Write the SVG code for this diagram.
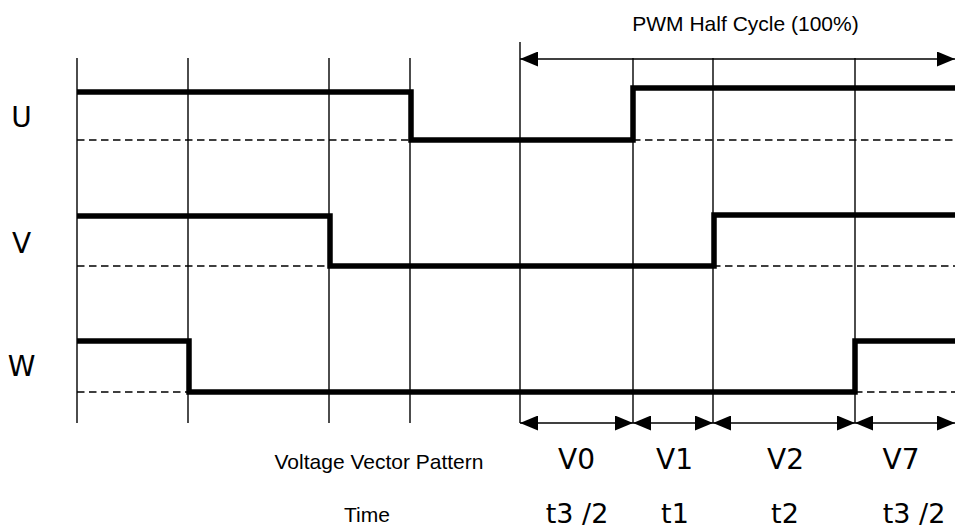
<svg xmlns="http://www.w3.org/2000/svg" width="955" height="530" viewBox="0 0 955 530">
<style>
.thin{stroke:#000;stroke-width:1.4;fill:none}
.dash{stroke:#000;stroke-width:1.5;stroke-dasharray:7.5,4.5;fill:none}
.sig{stroke:#000;stroke-width:5.5;fill:none;stroke-linejoin:miter}
.lbl{font-family:"DejaVu Sans",Verdana,sans-serif;font-size:28px;fill:#000}
.tl{font-family:"DejaVu Sans",Verdana,sans-serif;font-size:27px;fill:#000}
.sm{font-family:"Liberation Sans",Arial,sans-serif;font-size:21px;fill:#000}
</style>
<defs>
<marker id="ah" viewBox="0 0 18 15" refX="18" refY="7.5" markerWidth="18" markerHeight="15" markerUnits="userSpaceOnUse" orient="auto-start-reverse">
<path d="M0,0 L18,7.5 L0,15 z" fill="#000"/>
</marker>
</defs>
<rect width="955" height="530" fill="#fff"/>
<g id="gridlines">
<line class="thin" x1="77" y1="58" x2="77" y2="423"/>
<line class="thin" x1="188" y1="58" x2="188" y2="423"/>
<line class="thin" x1="329" y1="58" x2="329" y2="423"/>
<line class="thin" x1="410" y1="58" x2="410" y2="423"/>
<line class="thin" x1="520" y1="42" x2="520" y2="423"/>
<line class="thin" x1="633" y1="58" x2="633" y2="423"/>
<line class="thin" x1="713" y1="58" x2="713" y2="423"/>
<line class="thin" x1="855" y1="58" x2="855" y2="423"/>
</g>
<g id="baselines">
<line class="dash" x1="77" y1="140" x2="410" y2="140"/>
<line class="dash" x1="633" y1="140" x2="955" y2="140"/>
<line class="dash" x1="77" y1="266" x2="329" y2="266"/>
<line class="dash" x1="713" y1="266" x2="955" y2="266"/>
<line class="dash" x1="77" y1="392" x2="188" y2="392"/>
<line class="dash" x1="855" y1="392" x2="955" y2="392"/>
</g>
<g id="signal-U">
<polyline class="sig" points="77,92 411,92 411,140 633,140 633,88 955,88"/>
<text class="lbl" x="21.5" y="127" text-anchor="middle">U</text>
</g>
<g id="signal-V">
<polyline class="sig" points="77,216 330,216 330,266 714,266 714,215 955,215"/>
<text class="lbl" x="21.5" y="253" text-anchor="middle">V</text>
</g>
<g id="signal-W">
<polyline class="sig" points="77,341 189,341 189,392 855,392 855,341 955,341"/>
<text class="lbl" x="21.5" y="376" text-anchor="middle">W</text>
</g>
<g id="connectors">
<line class="thin" x1="520" y1="59" x2="955" y2="59" marker-start="url(#ah)" marker-end="url(#ah)"/>
<line class="thin" x1="520" y1="423" x2="633" y2="423" marker-start="url(#ah)" marker-end="url(#ah)"/>
<line class="thin" x1="633" y1="423" x2="713" y2="423" marker-start="url(#ah)" marker-end="url(#ah)"/>
<line class="thin" x1="713" y1="423" x2="855" y2="423" marker-start="url(#ah)" marker-end="url(#ah)"/>
<line class="thin" x1="855" y1="423" x2="955" y2="423" marker-start="url(#ah)" marker-end="url(#ah)"/>
</g>
<g id="labels">
<text class="sm" x="745.5" y="31" text-anchor="middle">PWM Half Cycle (100%)</text>
<text class="sm" x="379" y="469" text-anchor="middle">Voltage Vector Pattern</text>
<text class="sm" x="367" y="522" text-anchor="middle">Time</text>
<text class="lbl" x="576.5" y="469" text-anchor="middle">V0</text>
<text class="lbl" x="674.5" y="469" text-anchor="middle">V1</text>
<text class="lbl" x="785.5" y="469" text-anchor="middle">V2</text>
<text class="lbl" x="901" y="469" text-anchor="middle">V7</text>
<text class="tl" x="577" y="523" text-anchor="middle">t3 /2</text>
<text class="tl" x="675" y="523" text-anchor="middle">t1</text>
<text class="tl" x="785" y="523" text-anchor="middle">t2</text>
<text class="tl" x="914" y="523" text-anchor="middle">t3 /2</text>
</g>
</svg>
